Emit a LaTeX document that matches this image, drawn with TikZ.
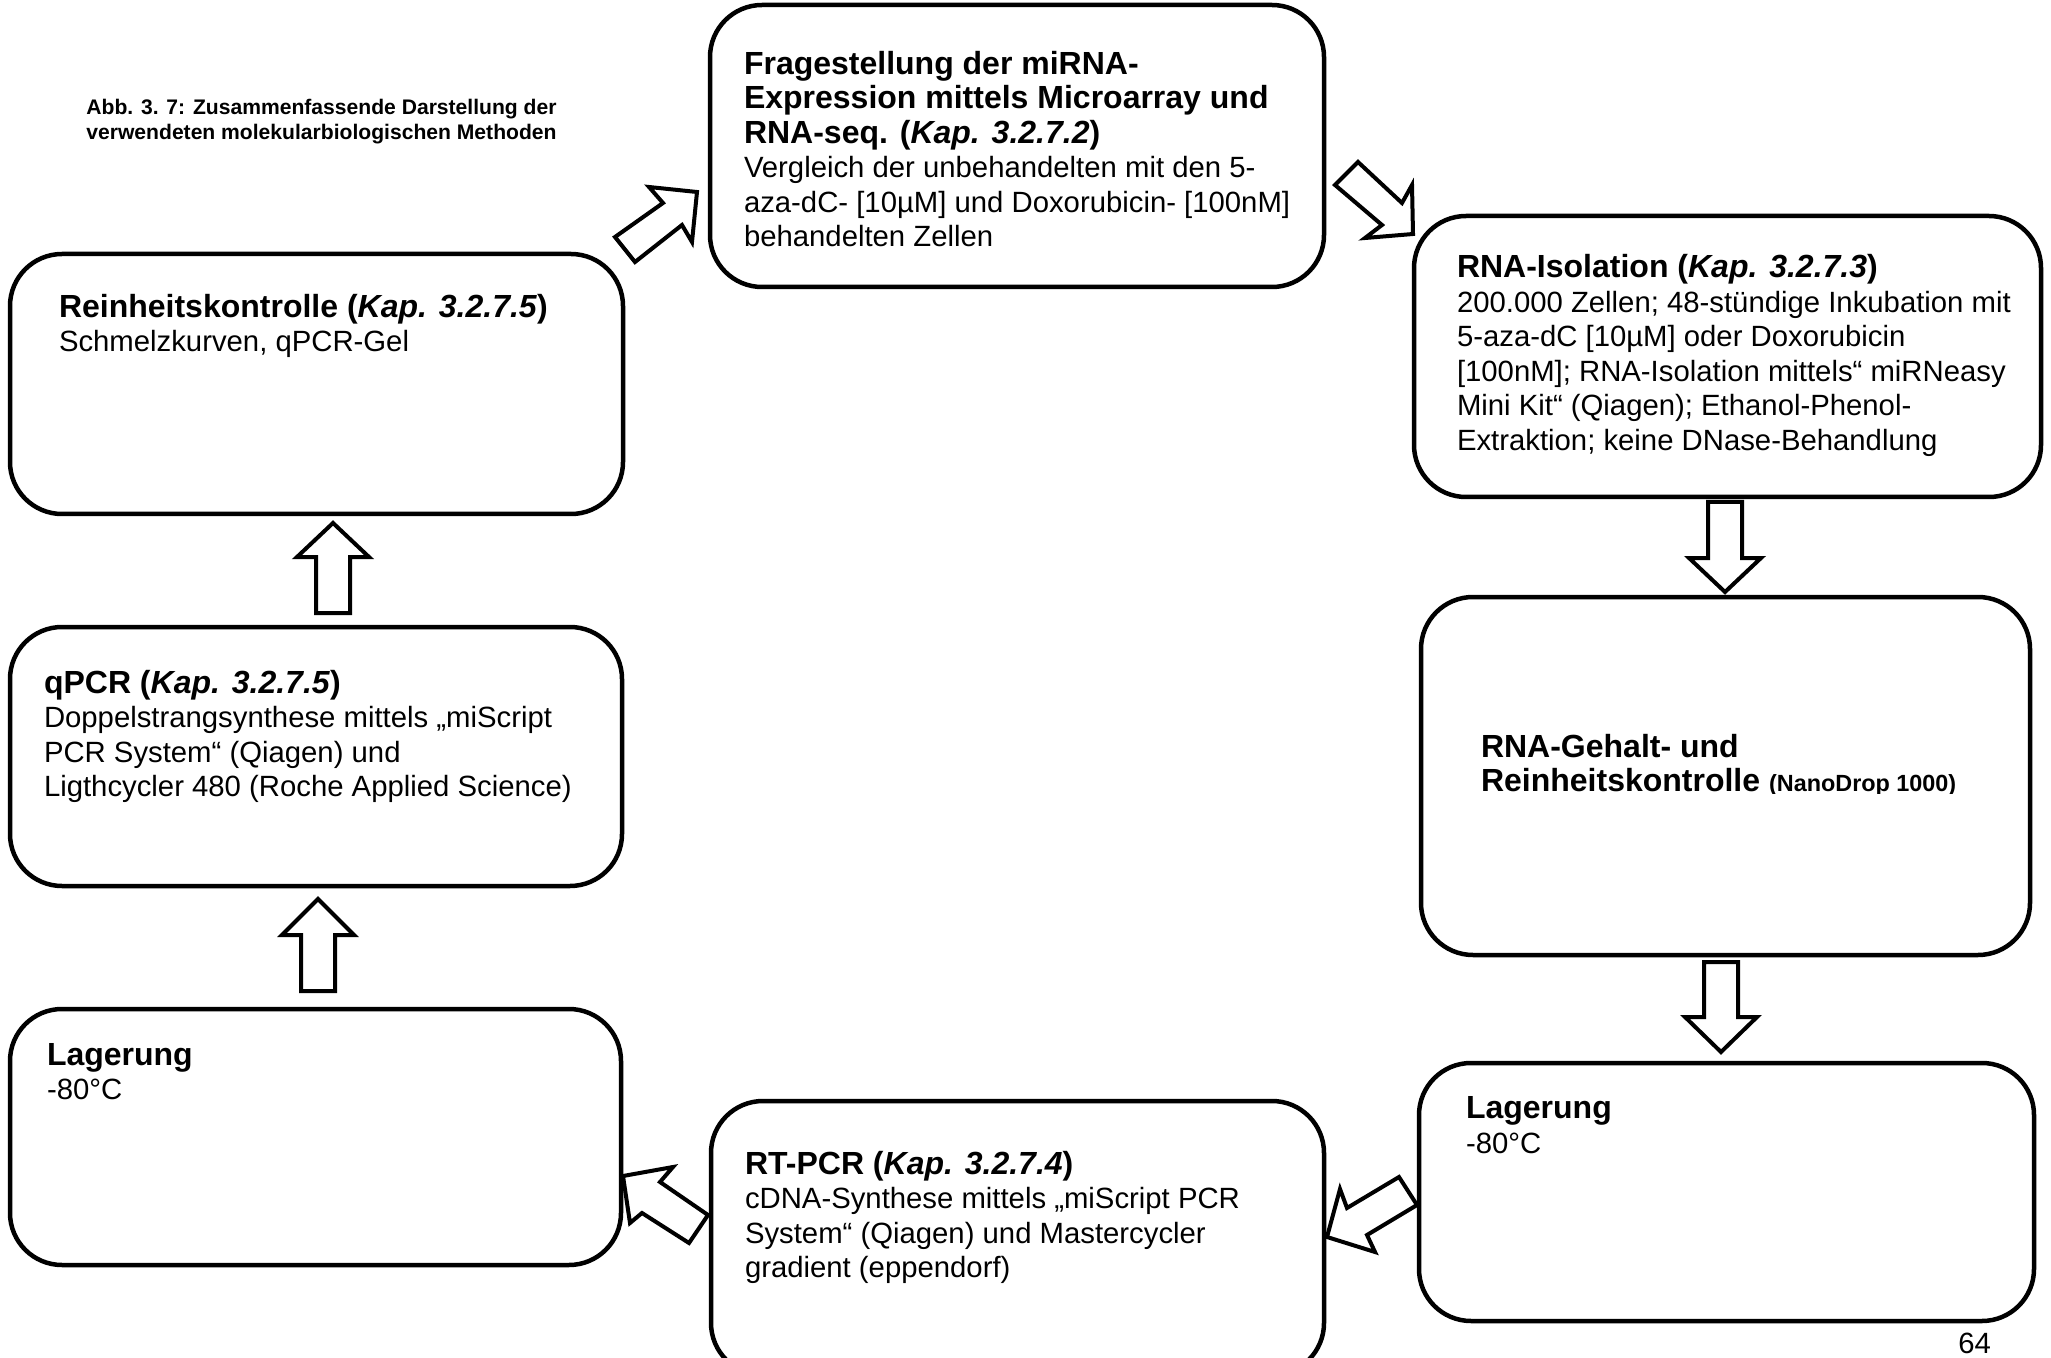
\documentclass[tikz,border=0pt]{standalone}
\usepackage{fontspec}
\setmainfont{Liberation Sans}
\newcommand\bodyfont{\fontsize{14.65pt}{17.25pt}\selectfont\lineskiplimit=-100pt\lineskip=0pt}
\newcommand\hd[1]{{\fontsize{16pt}{17.25pt}\selectfont\bfseries #1}}
\newcommand\kap[1]{\textit{Kap. #1}}
\begin{document}
\begin{tikzpicture}[x=0.5pt,y=-0.5pt,
  box/.style={draw, line width=2.25pt, rounded corners=26pt, anchor=north west,
    inner sep=0pt, outer sep=0pt, fill=white},
  txt/.style={anchor=base west, inner sep=0pt, outer sep=0pt, align=left, font=\bodyfont},
  blockarrow/.style={draw, line width=2pt, fill=white, line join=miter}]
\useasboundingbox (0,0) rectangle (2051,1358);

% boxes
\node[box, minimum width=307pt, minimum height=141pt] (b1) at (710,5) {};
\node[box, minimum width=313.5pt, minimum height=140.5pt] (b2) at (1414,216) {};
\node[box, minimum width=304.5pt, minimum height=179pt] (b3) at (1421,597) {};
\node[box, minimum width=307.5pt, minimum height=129pt] (b4) at (1419,1063) {};
\node[box, minimum width=306.5pt, minimum height=137pt] (b5) at (711,1101) {};
\node[box, minimum width=305.5pt, minimum height=128pt] (b6) at (10,1009) {};
\node[box, minimum width=306pt, minimum height=129.5pt] (b7) at (10,627) {};
\node[box, minimum width=306.5pt, minimum height=130pt] (b8) at (10,254) {};

% caption (anchor = baseline of the last line)
\node[anchor=base west, inner sep=0pt, align=left,
  font=\fontsize{10.55pt}{12.5pt}\selectfont\bfseries] (cap) at (86,140)
  {Abb. 3. 7: Zusammenfassende Darstellung der\\verwendeten molekularbiologischen Methoden};

% texts (anchor = baseline of the last line)
\node[txt] (t1) at (744,247) {\hd{Fragestellung der miRNA-}\\\hd{Expression mittels Microarray und}\\\hd{RNA-seq. (\kap{3.2.7.2})}\\Vergleich der unbehandelten mit den 5-\\aza-dC- {[}10µM{]} und Doxorubicin- {[}100nM{]}\\behandelten Zellen};
\node[txt] (t2) at (1457,450.5) {\hd{RNA-Isolation (\kap{3.2.7.3})}\\200.000 Zellen; 48-stündige Inkubation mit\\5-aza-dC {[}10µM{]} oder Doxorubicin\\{[}100nM{]}; RNA-Isolation mittels“ miRNeasy\\Mini Kit“ (Qiagen); Ethanol-Phenol-\\Extraktion; keine DNase-Behandlung};
\begin{scope}
\clip (1421,700) rectangle (2030,793);
\node[txt] (t3) at (1481,791.5) {\hd{RNA-Gehalt- und}\\\hd{Reinheitskontrolle {\fontsize{11.7pt}{12pt}\selectfont(NanoDrop 1000)}}};
\end{scope}
\node[txt] (t4) at (1466,1153) {\hd{Lagerung}\\-80°C};
\node[txt] (t5) at (745,1277.5) {\hd{RT-PCR (\kap{3.2.7.4})}\\cDNA-Synthese mittels „miScript PCR\\System“ (Qiagen) und Mastercycler\\gradient (eppendorf)};
\node[txt] (t6) at (47,1099.5) {\hd{Lagerung}\\-80°C};
\node[txt] (t7) at (44,796.5) {\hd{qPCR (\kap{3.2.7.5})}\\Doppelstrangsynthese mittels „miScript\\PCR System“ (Qiagen) und\\Ligthcycler 480 (Roche Applied Science)};
\node[txt] (t8) at (59,352) {\hd{Reinheitskontrolle (\kap{3.2.7.5})}\\Schmelzkurven, qPCR-Gel};
\node[anchor=base west, inner sep=0pt, font=\bodyfont] (pg) at (1958,1353) {64};

% block arrows
\draw[blockarrow] (615,237) -- (635,262) -- (682,225) -- (692,242) -- (697,192) -- (649,187) -- (663,203) -- cycle;
\draw[blockarrow] (1358,162) -- (1335,185) -- (1382,225) -- (1365,238) -- (1413,234) -- (1412,185) -- (1402,203) -- cycle;
\draw[blockarrow] (1708,502) -- (1742,502) -- (1742,558) -- (1761,558) -- (1725,592) -- (1689,558) -- (1708,558) -- cycle;
\draw[blockarrow] (1704,962) -- (1738,962) -- (1738,1017) -- (1757,1017) -- (1721,1052) -- (1685,1017) -- (1704,1017) -- cycle;
\draw[blockarrow] (1399,1177) -- (1417,1205) -- (1367,1235) -- (1375,1252) -- (1327,1237) -- (1340,1189) -- (1347,1208) -- cycle;
\draw[blockarrow] (708,1215) -- (689,1243) -- (642,1213) -- (630,1223) -- (623,1176) -- (673,1167) -- (660,1182) -- cycle;
\draw[blockarrow] (301,991) -- (335,991) -- (335,935) -- (354,935) -- (318,899) -- (282,935) -- (301,935) -- cycle;
\draw[blockarrow] (316,613) -- (350,613) -- (350,557) -- (369,557) -- (333,523) -- (297,557) -- (316,557) -- cycle;
\end{tikzpicture}
\end{document}
